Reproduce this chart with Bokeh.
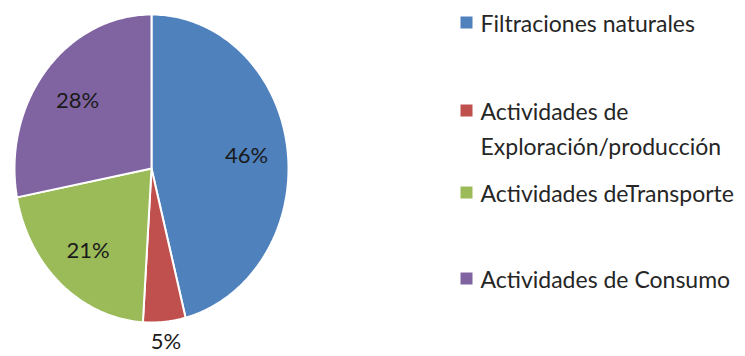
import math
from bokeh.plotting import figure
from bokeh.models import Range1d
from bokeh.core.properties import value
from bokeh.embed import file_html
from bokeh.resources import INLINE

# ---- data ----
categories = ["Filtraciones naturales",
              "Actividades de\nExploración/producción",
              "Actividades deTransporte",
              "Actividades de Consumo"]
shares = [46, 5, 21, 28]
pct_labels = ["46%", "5%", "21%", "28%"]
colors = ["#4F81BD", "#C0504D", "#9BBB59", "#8064A2"]

W, H = 745, 356
p = figure(width=W, height=H, output_backend="svg", toolbar_location=None,
           x_range=Range1d(0, W), y_range=Range1d(H, 0), min_border=0)
p.axis.visible = False
p.grid.visible = False
p.outline_line_color = None
p.background_fill_color = "white"
p.border_fill_color = "white"

# pie geometry (elliptical, like the stretched original)
cx, cy, rx, ry = 151, 168, 137, 154
total = float(sum(shares))
xs, ys, lx, ly = [], [], [], []
start = 90.0
for s in shares:
    sweep = 360.0 * s / total
    end = start - sweep
    n = max(8, int(sweep))
    px, py = [cx], [cy]
    for i in range(n + 1):
        a = math.radians(start + (end - start) * i / n)
        px.append(cx + rx * math.cos(a))
        py.append(cy - ry * math.sin(a))
    xs.append(px)
    ys.append(py)
    mid = math.radians((start + end) / 2)
    r = 1.12 if s / total < 0.1 else 0.70
    lx.append(cx + r * rx * math.cos(mid))
    ly.append(cy - r * ry * math.sin(mid))
    start = end

p.patches(xs, ys, fill_color=colors, line_color="white", line_width=2)
p.text(lx, ly, text=pct_labels, text_align="center", text_baseline="middle",
       text_font=value("Lato"), text_font_size="22px", text_color="#1a1a1a")

# legend
leg_y = [22, 110, 192, 278]
line_gap = 35
sq_x, tx = 466, 480
for i, lab in enumerate(categories):
    p.rect([sq_x], [leg_y[i]], width=12, height=12, fill_color=colors[i], line_color=None)
    for j, part in enumerate(lab.split("\n")):
        p.text([tx], [leg_y[i] + j * line_gap], text=[part], text_align="left",
               text_baseline="middle", text_font=value("Lato"),
               text_font_size="23px", text_color="#262626")

open("out.html", "w").write(file_html(p, INLINE))
